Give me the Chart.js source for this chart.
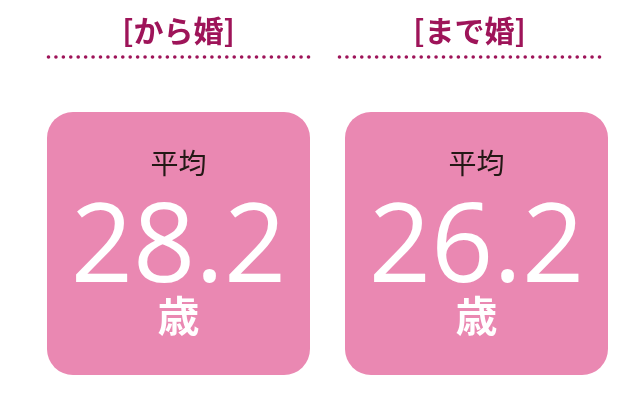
<!DOCTYPE html>
<html><head><meta charset="utf-8">
<script src="https://cdn.jsdelivr.net/npm/chart.js@4"></script>
<style>html,body{margin:0;padding:0;background:#fff}#wrap{width:640px;height:420px}</style>
</head><body><div id="wrap"><canvas id="c" width="640" height="420"></canvas></div>
<script>
const categories = ["[から婚]", "[まで婚]"];
const avgAges = [28.2, 26.2];
const topLabel = "平均";
const unitLabel = "歳";
const boxRange = [0, 1];

const titleColor = "#9E1459";
const boxColor = "#EA88B2";

const overlay = {
  id: "overlay",
  afterDatasetsDraw(chart) {
    const ctx = chart.ctx;
    const meta = chart.getDatasetMeta(0);
    meta.data.forEach((bar, i) => {
      const p = bar.getProps(["x", "y", "base", "width"], true);
      const x = p.x;
      const shift = i === 0 ? 0 : -7;
      const hx = x + shift;
      const left = hx - p.width / 2, right = hx + p.width / 2;
      const top = Math.min(p.y, p.base);
      ctx.save();
      // header title
      ctx.fillStyle = titleColor;
      ctx.textAlign = "center";
      ctx.textBaseline = "middle";
      ctx.font = "bold 30px 'Noto Sans CJK JP'";
      ctx.fillText(categories[i], hx, top - 81);
      // dotted line
      const dy = top - 55;
      const n = 36;
      const step = (right - left - 3) / (n - 1);
      for (let k = 0; k < n; k++) {
        ctx.beginPath();
        ctx.arc(left + 1.5 + k * step, dy, 1.8, 0, Math.PI * 2);
        ctx.fill();
      }
      // inner texts
      ctx.fillStyle = "#231815";
      ctx.font = "28px 'Noto Sans CJK JP'";
      ctx.fillText(topLabel, x, top + 51);
      ctx.fillStyle = "#ffffff";
      ctx.textBaseline = "alphabetic";
      ctx.font = "109px 'Open Sans'";
      ctx.fillText(avgAges[i].toFixed(1), x, top + 170);
      ctx.textBaseline = "middle";
      ctx.font = "bold 42px 'Noto Sans CJK JP'";
      ctx.fillText(unitLabel, x, top + 204);
      ctx.restore();
    });
  }
};

new Chart(document.getElementById("c"), {
  type: "bar",
  data: {
    labels: categories,
    datasets: [{
      data: categories.map(() => boxRange),
      backgroundColor: boxColor,
      borderRadius: 26,
      borderSkipped: false,
      categoryPercentage: 1,
      barPercentage: 0.8826
    }]
  },
  options: {
    responsive: false,
    animation: false,
    layout: { padding: { left: 29.5, right: 14.5, top: 112, bottom: 45 } },
    plugins: { legend: { display: false }, tooltip: { enabled: false } },
    scales: {
      x: { display: false },
      y: { display: false, min: 0, max: 1 }
    }
  },
  plugins: [overlay]
});
</script></body></html>
